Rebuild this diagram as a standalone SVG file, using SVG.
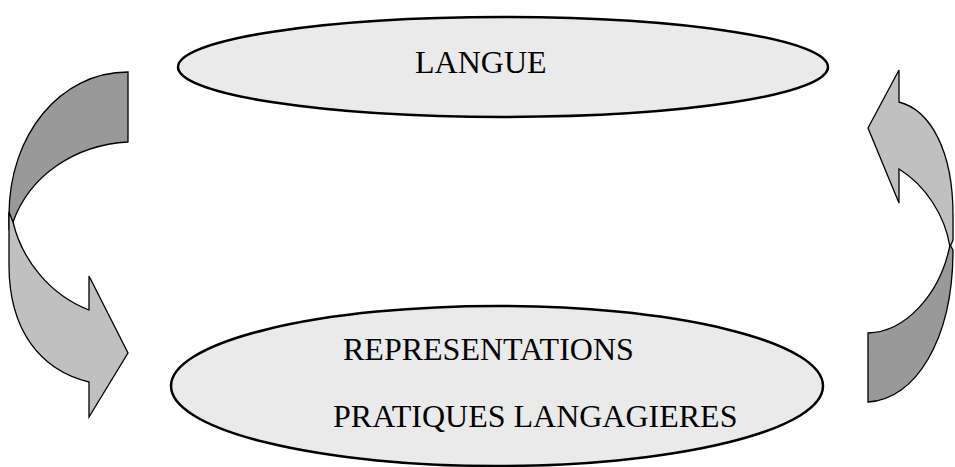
<svg xmlns="http://www.w3.org/2000/svg" width="955" height="467" viewBox="0 0 955 467">
<style>
.node{fill:#eaeaea;stroke:#000;stroke-width:2.5}
.lbl{font-family:"Liberation Serif","Times New Roman",serif;font-size:32px;fill:#000}
.dark{fill:#999999;stroke:#000;stroke-width:1.3;stroke-linejoin:miter}
.light{fill:#c0c0c0;stroke:#000;stroke-width:1.3;stroke-linejoin:miter}
</style>
<rect width="955" height="467" fill="#fff"/>
<g id="connectors">
<g id="arrow-left">
<path class="dark" d="M128,72 L128,142 C75,145 30,175 13,222 L9,228 L9,215 C9,135 60,72 128,72 Z"/>
<path class="light" d="M9,212 L9,265 C9,330 40,370 89,382 L89,417 L128,353 L89,276 L89,310 C50,295 22,260 13,222 Z"/>
</g>
<g id="arrow-right">
<path class="light" d="M899,70 L868,128 L899,203 L899,169 C925,185 945,215 950,247 L953,240 L953,215 C953,150 930,110 899,102 Z"/>
<path class="dark" d="M868,333 C905,332 940,295 950,245 L953,250 C953,340 915,400 868,402 Z"/>
</g>
</g>
<g id="node-langue">
<ellipse class="node" cx="503" cy="67" rx="325" ry="50"/>
<text class="lbl" x="415" y="73">LANGUE</text>
</g>
<g id="node-representations">
<ellipse class="node" cx="497" cy="386" rx="326" ry="80"/>
<text class="lbl" x="343" y="360">REPRESENTATIONS</text>
<text class="lbl" x="333" y="427">PRATIQUES LANGAGIERES</text>
</g>
</svg>
